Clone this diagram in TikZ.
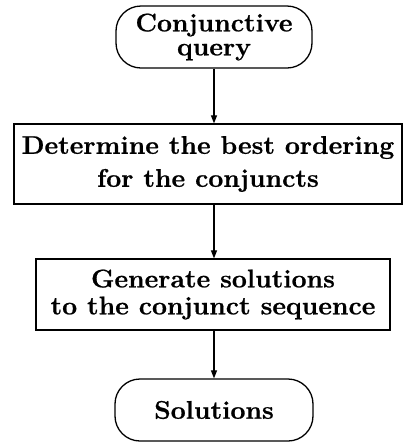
\documentclass[tikz,border=0pt]{standalone}
\usepackage{fontspec}
\setmainfont{Latin Modern Roman}[BoldFeatures={FakeBold=0.8,FakeStretch=1.04}]
\usetikzlibrary{arrows.meta}
\begin{document}
\begin{tikzpicture}[x=1pt,y=-1pt,
  every node/.style={font=\bfseries\fontsize{25.5}{28}\selectfont, align=center, inner sep=0pt, line width=1.3pt},
  terminal/.style={draw, rounded corners=25pt},
  process/.style={draw},
  flow/.style={line width=1.2pt, -{Triangle[length=8pt,width=6pt]}}]
\useasboundingbox (0,0) rectangle (406,448);
\node[terminal, minimum width=196pt, minimum height=62pt] (query) at (214,37)
  {\raisebox{-2pt}{Conjunctive}\\[-2pt]query};
\node[process, minimum width=388pt, minimum height=80pt] (order) at (208,164)
  {Determine the best ordering\\[5pt]for the conjuncts};
\node[process, minimum width=354pt, minimum height=71pt] (gen) at (213,294.5)
  {Generate solutions\\[-1pt]to the conjunct sequence};
\node[terminal, minimum width=198pt, minimum height=62pt] (sol) at (214,410)
  {Solutions};
\draw[flow] (query.south) -- (query.south |- order.north);
\draw[flow] (query.south |- order.south) -- (query.south |- gen.north);
\draw[flow] (query.south |- gen.south) -- (query.south |- sol.north);
\end{tikzpicture}
\end{document}
